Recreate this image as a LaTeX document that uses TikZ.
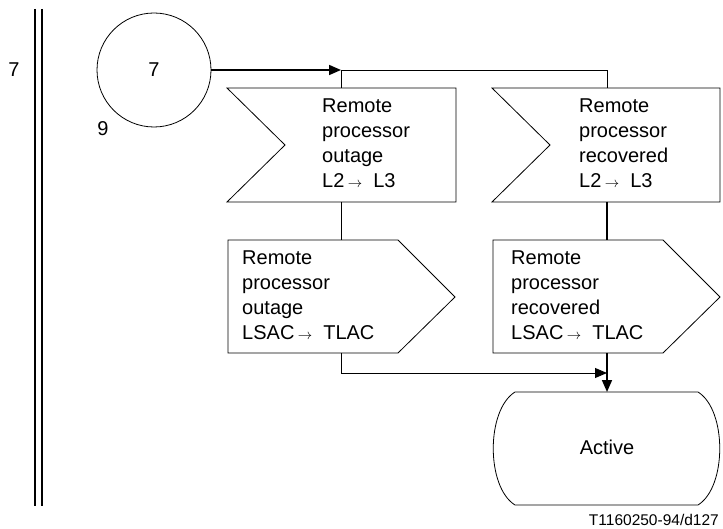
\documentclass[tikz,border=0pt]{standalone}
\usepackage{fontspec}
\setmainfont{Liberation Sans}
\usetikzlibrary{arrows.meta}
\newcommand{\sdlarr}{\,{\fontsize{15}{15}\selectfont$\rightarrow$}}
\tikzset{
  outline/.style={draw, line width=0.8pt},
  conthin/.style={draw, line width=0.9pt},
  conthick/.style={draw, line width=1.7pt},
  tip/.style={-{Triangle[length=12pt,width=10pt]}},
  lbl/.style={font=\fontsize{20}{25}\selectfont, inner sep=0pt, align=left, anchor=base west},
  plain/.style={font=\fontsize{20}{25}\selectfont, inner sep=0pt},
}
\begin{document}
\begin{tikzpicture}[x=1pt,y=-1pt]
\useasboundingbox (0,0) rectangle (723,529);
% double bar
\draw[line width=2pt] (35,9) -- (35,506);
\draw[line width=2pt] (42,9) -- (42,506);
\node[plain] (pagenum) at (14,70) {7};
% connector circle
\node[circle, outline, minimum size=114pt, inner sep=0pt, font=\fontsize{20}{25}\selectfont] (conn) at (154,70) {7};
\node[plain] (nine) at (103,129) {9};
% left input
\path[outline] (227,88) -- (456,88) -- (456,202) -- (227,202) -- (285,145) -- cycle;
\coordinate (inL-top) at (341,88);
\coordinate (inL-bot) at (341,202);
\node[lbl] (inL-txt) at (322,188) {Remote\\processor\\outage\\L2\sdlarr~ L3};
% right input
\path[outline] (492,88) -- (720,88) -- (720,202) -- (492,202) -- (550,145) -- cycle;
\coordinate (inR-top) at (607,88);
\coordinate (inR-bot) at (607,202);
\node[lbl] (inR-txt) at (579,188) {Remote\\processor\\recovered\\L2\sdlarr~ L3};
% left output
\path[outline] (228,240) -- (398,240) -- (455,297) -- (398,353) -- (228,353) -- cycle;
\coordinate (outL-top) at (341,240);
\coordinate (outL-bot) at (341,353);
\node[lbl] (outL-txt) at (242,340) {Remote\\processor\\outage\\LSAC\sdlarr~ TLAC};
% right output
\path[outline] (493,240) -- (663,240) -- (720,297) -- (663,353) -- (493,353) -- cycle;
\coordinate (outR-top) at (607,240);
\coordinate (outR-bot) at (607,353);
\node[lbl] (outR-txt) at (511,340) {Remote\\processor\\recovered\\LSAC\sdlarr~ TLAC};
% state
\path[outline] (515,392) -- (698,392) .. controls (727,410) and (727,487) .. (698,505)
  -- (515,505) .. controls (486,487) and (486,410) .. (515,392) -- cycle;
\coordinate (st-top) at (607,392);
\node[plain] (active) at (607,447) {Active};
% connectors
\coordinate (j1) at (341,70);
\coordinate (j1r) at (607,70);
\coordinate (j2) at (341,373);
\coordinate (j2r) at (607,373);
\draw[conthick, tip] (conn.east) -- (j1);
\draw[conthin] (j1) -- (j1r) -- (inR-top);
\draw[conthin] (j1) -- (inL-top);
\draw[conthin] (inL-bot) -- (outL-top);
\draw[conthick] (inR-bot) -- (outR-top);
\draw[conthin, tip] (outL-bot) -- (j2) -- (j2r);
\draw[conthick, tip] (outR-bot) -- (st-top);
\node[font=\fontsize{15.5}{17}\selectfont, inner sep=0pt, anchor=base east] (fig) at (719,525) {T1160250-94/d127};
\end{tikzpicture}
\end{document}
